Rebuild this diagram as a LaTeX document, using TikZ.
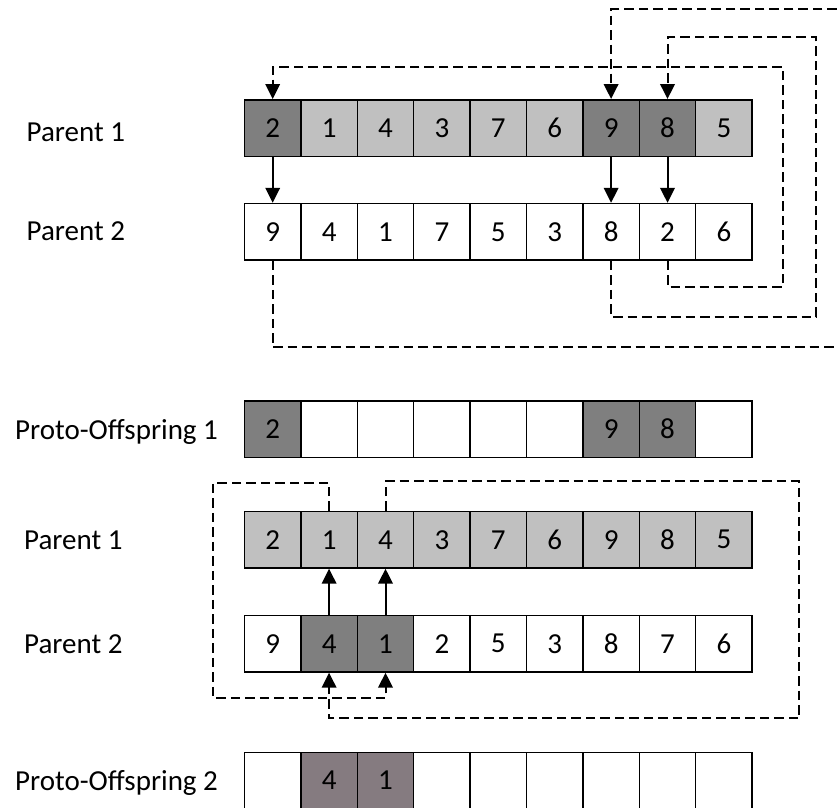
\documentclass[tikz,border=0pt]{standalone}
\usepackage{fontspec}
\setmainfont{Carlito}
\usetikzlibrary{arrows.meta}
\definecolor{lightcell}{HTML}{C0C0C0}
\definecolor{darkcell}{HTML}{7F7F7F}
\definecolor{mauvecell}{HTML}{857B80}
\begin{document}
\begin{tikzpicture}[x=1pt,y=-1pt,
  cell/.style={draw=black, line width=1.5pt, minimum width=56.4pt, minimum height=56.5pt,
    inner sep=0pt, font=\fontsize{29}{34}\selectfont},
  rowlabel/.style={anchor=base west, inner sep=0pt, font=\fontsize{29}{34}\selectfont},
  move/.style={line width=2pt, -{Triangle[length=15pt,width=14.5pt]}},
  trace/.style={line width=2pt, dash pattern=on 9.5pt off 5pt, -{Triangle[length=15pt,width=14.5pt]}}
]
\useasboundingbox (0,0) rectangle (837,807);
\clip (0,0) rectangle (837,807);
\fill[white] (0,0) rectangle (837,807);

% cell centres: x = 244.5 + 56.4*(i-0.5)
% --- first crossover: Parent 1 / Parent 2 / Proto-Offspring 1
\foreach \v/\f [count=\i] in {2/darkcell,1/lightcell,4/lightcell,3/lightcell,7/lightcell,6/lightcell,9/darkcell,8/darkcell,5/lightcell}
  \node[cell, fill=\f] (a\i) at ({244.5+56.4*(\i-0.5)},128) {\v};
\foreach \v [count=\i] in {9,4,1,7,5,3,8,2,6}
  \node[cell, fill=white] (b\i) at ({244.5+56.4*(\i-0.5)},231.8) {\v};
\foreach \v/\f [count=\i] in {2/darkcell,{}/white,{}/white,{}/white,{}/white,{}/white,9/darkcell,8/darkcell,{}/white}
  \node[cell, fill=\f] (c\i) at ({244.5+56.4*(\i-0.5)},429) {\v};

% --- second crossover: Parent 1 / Parent 2 / Proto-Offspring 2
\foreach \v [count=\i] in {2,1,4,3,7,6,9,8,5}
  \node[cell, fill=lightcell] (d\i) at ({244.5+56.4*(\i-0.5)},539.7) {\v};
\foreach \v/\f [count=\i] in {9/white,4/darkcell,1/darkcell,2/white,5/white,3/white,8/white,7/white,6/white}
  \node[cell, fill=\f] (e\i) at ({244.5+56.4*(\i-0.5)},643.7) {\v};
\foreach \v/\f [count=\i] in {{}/white,4/mauvecell,1/mauvecell,{}/white,{}/white,{}/white,{}/white,{}/white,{}/white}
  \node[cell, fill=\f] (f\i) at ({244.5+56.4*(\i-0.5)},780.5) {\v};

% row labels
\node[rowlabel] (l1) at (26.5,141.5) {Parent 1};
\node[rowlabel] (l2) at (26.5,240) {Parent 2};
\node[rowlabel] (l3) at (15,439) {Proto-Offspring 1};
\node[rowlabel] (l4) at (24,549.5) {Parent 1};
\node[rowlabel] (l5) at (24,653.5) {Parent 2};
\node[rowlabel] (l6) at (15,790.5) {Proto-Offspring 2};

% copies from Parent 1 down to Parent 2
\draw[move] (a1.south) -- (b1.north);
\draw[move] (a7.south) -- (b7.north);
\draw[move] (a8.south) -- (b8.north);

% cycle back to Parent 1
\draw[trace] (b8.south) |- (783,286.7) -- (783,66.7) -| (a1.north);
\draw[trace] (b7.south) |- (816.3,316.7) -- (816.3,37.3) -| (a8.north);
\draw[trace] (b1.south) |- (850,347.3) -- (850,9.3) -| (a7.north);

% copies from Parent 2 up to Parent 1
\draw[move] (e2.north) -- (d2.south);
\draw[move] (e3.north) -- (d3.south);

% cycle back to Parent 2
\draw[trace] (d2.north) |- (213.3,482.7) -- (213.3,698.3) -| (e3.south);
\draw[trace] (d3.north) |- (799.3,481.3) -- (799.3,718.3) -| (e2.south);
\end{tikzpicture}
\end{document}
